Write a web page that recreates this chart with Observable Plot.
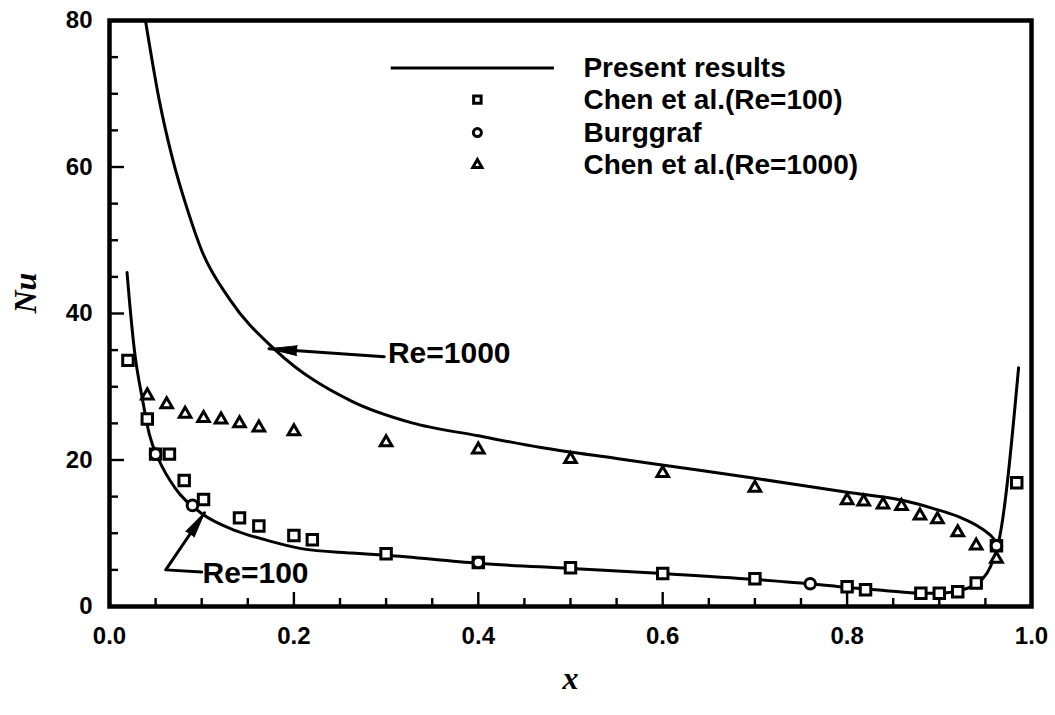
<!DOCTYPE html>
<html><head><meta charset="utf-8">
<script src="https://cdn.jsdelivr.net/npm/d3@7"></script>
<script src="https://cdn.jsdelivr.net/npm/@observablehq/plot@0.6"></script>
<style>body{margin:0;background:#fff}</style>
</head><body><div id="chart"></div>
<script>
// ---- data ----
const re1000X = [0.039, 0.054, 0.068, 0.086, 0.10, 0.13, 0.18, 0.263, 0.327, 0.40, 0.468, 0.55, 0.64, 0.70, 0.80, 0.86, 0.893, 0.922, 0.944, 0.958, 0.965];
const re1000Y = [80, 69.1, 61.3, 53.6, 48.6, 42.0, 35.0, 28.0, 25.1, 23.3, 21.7, 20.2, 18.6, 17.5, 15.6, 14.5, 13.4, 12.2, 10.8, 9.4, 8.3];
const re100X = [0.019, 0.0216, 0.027, 0.036, 0.043, 0.054, 0.071, 0.10, 0.136, 0.172, 0.208, 0.263, 0.30, 0.40, 0.50, 0.60, 0.70, 0.76, 0.80, 0.84, 0.88, 0.90, 0.922, 0.941, 0.963, 0.986];
const re100Y = [45.6, 41.8, 35, 28.1, 23.6, 19.9, 16.2, 12.7, 10.4, 9.0, 7.9, 7.3, 7.0, 5.9, 5.2, 4.5, 3.7, 3.1, 2.6, 2.2, 1.8, 1.8, 2.2, 3.1, 8.1, 32.6];
const chen100X = [0.02, 0.041, 0.05, 0.065, 0.081, 0.102, 0.141, 0.162, 0.20, 0.22, 0.30, 0.40, 0.50, 0.60, 0.70, 0.80, 0.82, 0.88, 0.90, 0.92, 0.94, 0.962, 0.984];
const chen100Y = [33.6, 25.6, 20.8, 20.8, 17.2, 14.6, 12.1, 11.0, 9.7, 9.1, 7.2, 6.0, 5.3, 4.5, 3.8, 2.7, 2.3, 1.8, 1.8, 2.0, 3.2, 8.3, 16.9];
const burgX = [0.05, 0.09, 0.40, 0.76, 0.962];
const burgY = [20.8, 13.8, 6.0, 3.1, 8.3];
const chen1000X = [0.041, 0.062, 0.082, 0.102, 0.121, 0.141, 0.162, 0.20, 0.30, 0.40, 0.50, 0.60, 0.70, 0.80, 0.818, 0.839, 0.859, 0.879, 0.898, 0.920, 0.940, 0.962];
const chen1000Y = [28.8, 27.6, 26.3, 25.7, 25.5, 25.0, 24.4, 23.9, 22.4, 21.4, 20.1, 18.2, 16.2, 14.5, 14.3, 13.9, 13.7, 12.4, 11.9, 10.1, 8.3, 6.5];
const xMajor = [0, 0.2, 0.4, 0.6, 0.8, 1.0];
const xMinor = [0.05, 0.1, 0.15, 0.25, 0.3, 0.35, 0.45, 0.5, 0.55, 0.65, 0.7, 0.75, 0.85, 0.9, 0.95];
const yMajor = [0, 20, 40, 60, 80];
const yMinor = [5, 10, 15, 25, 30, 35, 45, 50, 55, 65, 70, 75];
const legendLabels = ["Present results", "Chen et al.(Re=100)", "Burggraf", "Chen et al.(Re=1000)"];
const annoLabels = ["Re=1000", "Re=100"];

// ---- layout ----
const W = 1055, H = 715, mL = 109, mR = 24, mT = 20, mB = 109;
const plotW = W - mL - mR, plotH = H - mT - mB;
const zip = (xs, ys) => xs.map((x, i) => ({x, y: ys[i]}));
const FONT = "'Liberation Sans', Arial, Helvetica, sans-serif";
const SERIF = "'Liberation Serif', 'Times New Roman', serif";

// legend placement (in data units)
const legX0 = 0.305, legX1 = 0.482, legSymX = 0.399, legTextX = 0.514;
const legRowY = [73.5, 69.2, 64.7, 60.3];
// annotation placement
const arrow1000 = [{x: 0.298, y: 34.1}, {x: 0.173, y: 35.2}];
const arrow100 = [{x: 0.1, y: 4.7}, {x: 0.061, y: 5.0}, {x: 0.103, y: 12.8}];
const annoPos = [{x: 0.302, y: 34.6}, {x: 0.101, y: 4.5}];

const dotStyle = {fill: "white", stroke: "black", strokeWidth: 3};
const TICK = "black";

const chart = Plot.plot({
  width: W, height: H,
  marginLeft: mL, marginRight: mR, marginTop: mT, marginBottom: mB,
  style: {fontFamily: FONT, fontWeight: "bold", background: "white", color: "black"},
  x: {domain: [0, 1]},
  y: {domain: [0, 80]},
  marks: [
    Plot.frame({stroke: "black", strokeWidth: 4.5}),
    // inward ticks (full-span rules trimmed by insets)
    Plot.ruleX(xMajor, {x: d => d, insetTop: plotH - 14, stroke: TICK, strokeWidth: 2.4}),
    Plot.ruleX(xMinor, {x: d => d, insetTop: plotH - 8, stroke: TICK, strokeWidth: 2.4}),
    Plot.ruleY(yMajor, {y: d => d, insetRight: plotW - 15, stroke: TICK, strokeWidth: 2.4}),
    Plot.ruleY(yMinor, {y: d => d, insetRight: plotW - 9, stroke: TICK, strokeWidth: 2.4}),
    // tick labels
    Plot.axisX({ticks: xMajor, tickSize: 0, tickPadding: 20, fontSize: 24, fontWeight: "bold", tickFormat: d3.format(".1f"), label: null}),
    Plot.axisY({ticks: yMajor, tickSize: 0, tickPadding: 17, fontSize: 24, fontWeight: "bold", label: null}),
    Plot.text(["Nu"], {frameAnchor: "left", dx: -84, rotate: -90, fontSize: 32, fontStyle: "italic", fontFamily: SERIF, fontWeight: "bold"}),
    Plot.text(["x"], {frameAnchor: "bottom", dy: 82, fontSize: 32, fontStyle: "italic", fontFamily: SERIF, fontWeight: "bold"}),
    // curves
    Plot.line(zip(re1000X, re1000Y), {x: "x", y: "y", curve: "monotone-x", stroke: "black", strokeWidth: 3}),
    Plot.line(zip(re100X, re100Y), {x: "x", y: "y", curve: "monotone-x", stroke: "black", strokeWidth: 3}),
    // markers
    Plot.dot(zip(chen100X, chen100Y), {x: "x", y: "y", symbol: "square", r: 5.9, ...dotStyle}),
    Plot.dot(zip(burgX, burgY), {x: "x", y: "y", symbol: "circle", r: 5.3, ...dotStyle}),
    Plot.dot(zip(chen1000X, chen1000Y), {x: "x", y: "y", symbol: "triangle", r: 4.3, ...dotStyle}),
    // annotations
    Plot.line(arrow1000, {x: "x", y: "y", stroke: "black", strokeWidth: 3}),
    Plot.line(arrow100, {x: "x", y: "y", stroke: "black", strokeWidth: 3}),
    Plot.vector([arrow1000[1]], {x: "x", y: "y", anchor: "end", shape: "spike", length: 28, r: 5, rotate: -86, fill: "black", stroke: "black", strokeWidth: 1}),
    Plot.vector([arrow100[2]], {x: "x", y: "y", anchor: "end", shape: "spike", length: 26, r: 5, rotate: 34, fill: "black", stroke: "black", strokeWidth: 1}),
    Plot.text(annoLabels, {x: (d, i) => annoPos[i].x, y: (d, i) => annoPos[i].y, text: d => d, textAnchor: "start", fontSize: 30, fontWeight: "bold"}),
    // legend
    Plot.link([legRowY[0]], {y1: d => d, y2: d => d, x1: d => legX0, x2: d => legX1, stroke: "black", strokeWidth: 3}),
    Plot.dot([legRowY[1]], {x: d => legSymX, y: d => d, symbol: "square", r: 4.2, ...dotStyle}),
    Plot.dot([legRowY[2]], {x: d => legSymX, y: d => d, symbol: "circle", r: 4, ...dotStyle}),
    Plot.dot([legRowY[3]], {x: d => legSymX, y: d => d, symbol: "triangle", r: 3.4, ...dotStyle}),
    Plot.text(legendLabels, {x: d => legTextX, y: (d, i) => legRowY[i], text: d => d, textAnchor: "start", fontSize: 28, fontWeight: "bold"})
  ]
});
document.getElementById("chart").append(chart);
</script>
</body></html>
